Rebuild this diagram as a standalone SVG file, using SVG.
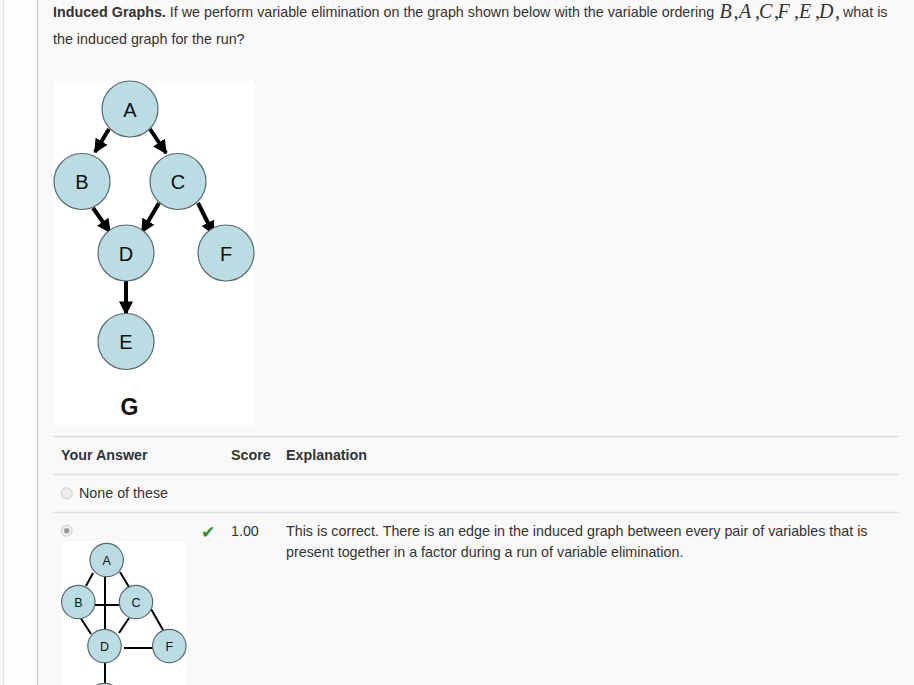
<svg xmlns="http://www.w3.org/2000/svg" width="914" height="685" viewBox="0 0 914 685">
<defs>
<style>
.t{font-family:"Liberation Sans",Arial,sans-serif;font-size:14.3px;fill:#333}
.b{font-weight:bold}
.m{font-family:"Liberation Serif","Times New Roman",serif;font-size:20px;fill:#333}
.mi{font-style:italic}
.n{fill:#b9dde2;stroke:#5a6a6c;stroke-width:1.2}
.nl{font-family:"Liberation Sans",Arial,sans-serif;font-size:20px;fill:#111;text-anchor:middle}
.nl2{font-family:"Liberation Sans",Arial,sans-serif;font-size:12.5px;fill:#111;text-anchor:middle}
.rule{stroke:#dddddd;stroke-width:1.3}
.arr{stroke:#000;stroke-width:4;fill:none;marker-end:url(#ah)}
.edge{stroke:#000;stroke-width:2;fill:none}
.radio{fill:#eeeeee;stroke:#c8c8c8;stroke-width:1}
</style>
<marker id="ah" viewBox="0 0 10 10" refX="9" refY="5" markerWidth="3.5" markerHeight="3.5" orient="auto" markerUnits="strokeWidth">
<path d="M0,0 L10,5 L0,10 z" fill="#000"/>
</marker>
</defs>
<rect x="0" y="0" width="914" height="685" fill="#f9f9f9"/>
<rect x="3" y="0" width="34" height="685" fill="#fdfdfd"/>
<line x1="3.5" y1="0" x2="3.5" y2="685" stroke="#e2e2e2" stroke-width="1"/>
<line x1="37.5" y1="0" x2="37.5" y2="685" stroke="#cfcfcf" stroke-width="1.2"/>

<g id="question">
<text class="t" x="53" y="17"><tspan class="b">Induced Graphs.</tspan> If we perform variable elimination on the graph shown below with the variable ordering</text>
<text class="m"><tspan class="mi" x="719.5" y="17.5">B</tspan><tspan x="733.5" y="17.5">,</tspan><tspan class="mi" x="739" y="17.5">A</tspan><tspan x="755" y="17.5">,</tspan><tspan class="mi" x="759" y="17.5">C</tspan><tspan x="774" y="17.5">,</tspan><tspan class="mi" x="777.5" y="17.5">F</tspan><tspan x="794" y="17.5">,</tspan><tspan class="mi" x="799" y="17.5">E</tspan><tspan x="815" y="17.5">,</tspan><tspan class="mi" x="819" y="17.5">D</tspan><tspan x="835" y="17.5">,</tspan></text>
<text class="t" x="843" y="17">what is</text>
<text class="t" x="53" y="44">the induced graph for the run?</text>
</g>

<rect x="53" y="81" width="202" height="344" fill="#ffffff"/>
<g id="connectors1">
<line class="arr" x1="109" y1="129" x2="95" y2="152"/>
<line class="arr" x1="150" y1="129" x2="166" y2="153"/>
<line class="arr" x1="93" y1="208" x2="110" y2="232"/>
<line class="arr" x1="159" y1="203" x2="142" y2="232"/>
<line class="arr" x1="198" y1="203" x2="213.5" y2="234"/>
<line class="arr" x1="126" y1="281" x2="126" y2="314"/>
</g>
<g id="nodeA"><circle class="n" cx="130" cy="109" r="28"/><text class="nl" x="130" y="116.5">A</text></g>
<g id="nodeB"><circle class="n" cx="82" cy="181.5" r="28"/><text class="nl" x="82" y="189">B</text></g>
<g id="nodeC"><circle class="n" cx="178" cy="181.5" r="28"/><text class="nl" x="178" y="189">C</text></g>
<g id="nodeD"><circle class="n" cx="126" cy="253" r="28"/><text class="nl" x="126" y="260.5">D</text></g>
<g id="nodeF"><circle class="n" cx="226" cy="253" r="28"/><text class="nl" x="226" y="260.5">F</text></g>
<g id="nodeE"><circle class="n" cx="126" cy="341.5" r="28"/><text class="nl" x="126" y="349">E</text></g>
<text x="129.5" y="415" font-family="Liberation Sans,Arial,sans-serif" font-size="23" font-weight="bold" fill="#111" text-anchor="middle">G</text>

<g id="table">
<line class="rule" x1="53" y1="436.5" x2="899" y2="436.5"/>
<line class="rule" x1="53" y1="474.5" x2="899" y2="474.5"/>
<line class="rule" x1="53" y1="512.5" x2="899" y2="512.5"/>
<text class="t b" x="61" y="460">Your Answer</text>
<text class="t b" x="231" y="460">Score</text>
<text class="t b" x="286" y="460">Explanation</text>
<circle class="radio" cx="66.7" cy="493.3" r="5.5"/>
<text class="t" x="79" y="498">None of these</text>
<circle class="radio" cx="66.7" cy="530.7" r="5.5"/>
<circle cx="66.7" cy="530.7" r="2.6" fill="#999"/>
<text x="201" y="537.5" font-family="DejaVu Sans,sans-serif" font-size="17" font-weight="bold" fill="#2f8f1f">✔</text>
<text class="t" x="231" y="536">1.00</text>
<text class="t" x="286" y="536">This is correct. There is an edge in the induced graph between every pair of variables that is</text>
<text class="t" x="286" y="557">present together in a factor during a run of variable elimination.</text>
</g>

<rect x="61" y="542" width="126" height="143" fill="#ffffff"/>
<g id="connectors2">
<line class="edge" x1="93" y1="573" x2="86" y2="586"/>
<line class="edge" x1="120" y1="572" x2="129" y2="587"/>
<line class="edge" x1="105" y1="577" x2="105" y2="629"/>
<line class="edge" x1="95" y1="605" x2="119" y2="605"/>
<line class="edge" x1="80" y1="617" x2="91" y2="634"/>
<line class="edge" x1="129" y1="618" x2="119" y2="633"/>
<line class="edge" x1="151" y1="609" x2="163" y2="630"/>
<line class="edge" x1="124" y1="648" x2="153" y2="648"/>
<line class="edge" x1="105" y1="663" x2="105" y2="685"/>
</g>
<g id="nodeA2"><circle class="n" cx="106.7" cy="560" r="16.7"/><text class="nl2" x="106.7" y="564.5">A</text></g>
<g id="nodeB2"><circle class="n" cx="78.3" cy="602" r="16.7"/><text class="nl2" x="78.3" y="606.5">B</text></g>
<g id="nodeC2"><circle class="n" cx="136" cy="602" r="16.7"/><text class="nl2" x="136" y="606.5">C</text></g>
<g id="nodeD2"><circle class="n" cx="104.5" cy="646" r="16.7"/><text class="nl2" x="104.5" y="650.5">D</text></g>
<g id="nodeF2"><circle class="n" cx="169.3" cy="646" r="16.7"/><text class="nl2" x="169.3" y="650.5">F</text></g>
<g id="nodeE2"><circle class="n" cx="104.5" cy="700" r="16.7"/></g>
</svg>
